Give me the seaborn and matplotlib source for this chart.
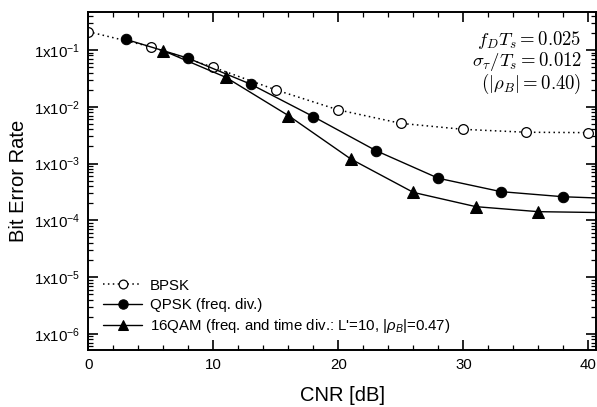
import numpy as np
import pandas as pd
import seaborn as sns
import matplotlib.pyplot as plt
from matplotlib.ticker import LogLocator, FuncFormatter, MultipleLocator, NullFormatter

# values (CNR in dB, bit error rate)
bpsk_cnr = [0, 5, 10, 15, 20, 25, 30, 35, 40]
bpsk_ber = [0.21, 0.114, 0.0495, 0.0198, 0.0088, 0.0051, 0.0040, 0.00356, 0.0035]

qpsk_cnr = [3, 8, 13, 18, 23, 28, 33, 38, 43]
qpsk_ber = [0.154, 0.0714, 0.0249, 0.0067, 0.00169, 0.00055, 0.00032, 0.00026, 0.000237]

qam_cnr = [6, 11, 16, 21, 26, 31, 36, 41]
qam_ber = [0.097, 0.033, 0.0070, 0.0012, 0.00031, 0.000174, 0.000142, 0.000137]

labels = ["BPSK", "QPSK (freq. div.)",
          "16QAM (freq. and time div.: L'=10, $|\\rho_B|$=0.47)"]

sns.set_theme(style="ticks")
plt.rcParams["font.family"] = ["Liberation Sans", "DejaVu Sans"]
plt.rcParams["mathtext.fontset"] = "custom"
plt.rcParams["mathtext.rm"] = "Liberation Sans"
plt.rcParams["mathtext.it"] = "Liberation Sans:italic"
plt.rcParams["mathtext.bf"] = "Liberation Sans:bold"
plt.rcParams["text.color"] = "black"
plt.rcParams["axes.labelcolor"] = "black"
plt.rcParams["xtick.color"] = "black"
plt.rcParams["ytick.color"] = "black"

fig = plt.figure(figsize=(5.97, 4.07), dpi=100)
ax = fig.add_axes([0.1479, 0.14, 0.8504, 0.8298])

sns.lineplot(x=bpsk_cnr, y=bpsk_ber, ax=ax, color="black", linestyle=(0, (1, 2.2)),
             linewidth=1.1, marker="o", markersize=7, markerfacecolor="white",
             markeredgecolor="black", markeredgewidth=0.9, label=labels[0])
sns.lineplot(x=qpsk_cnr, y=qpsk_ber, ax=ax, color="black", linewidth=1.0,
             marker="o", markersize=7.5, markeredgecolor="black", label=labels[1])
sns.lineplot(x=qam_cnr, y=qam_ber, ax=ax, color="black", linewidth=1.0,
             marker="^", markersize=8, markeredgecolor="black", label=labels[2])

ax.set_yscale("log")
ax.set_xlim(0, 40.6)
ax.set_ylim(5.2e-7, 0.461)

ax.xaxis.set_major_locator(MultipleLocator(10))
ax.xaxis.set_minor_locator(MultipleLocator(2))
ax.yaxis.set_major_locator(LogLocator(base=10, numticks=20))
ax.yaxis.set_minor_locator(LogLocator(base=10, subs=np.arange(2, 10), numticks=20))
ax.yaxis.set_minor_formatter(NullFormatter())
ax.yaxis.set_major_formatter(FuncFormatter(
    lambda v, pos: "1x10$^{%d}$" % int(round(np.log10(v)))))

ax.tick_params(which="both", direction="in", top=True, right=True, color="black",
               labelsize=10.8, pad=6)
ax.tick_params(which="major", length=7, width=1.2)
ax.tick_params(which="minor", length=3.5, width=0.9)
for s in ax.spines.values():
    s.set_linewidth(1.4)
    s.set_color("black")

ax.set_xlabel("CNR [dB]", fontsize=14.5, labelpad=10)
ax.set_ylabel("Bit Error Rate", fontsize=14.5)
ax.yaxis.set_label_coords(-0.119, 0.5)

note = "$f_DT_s = 0.025$\n$\\sigma_\\tau/T_s = 0.012$\n$(|\\rho_B| = 0.40)$"
ax.text(0.972, 0.95, note, transform=ax.transAxes, ha="right", va="top",
        fontsize=13.5, math_fontfamily="cm", linespacing=0.92)

ax.legend(loc="lower left", frameon=False, fontsize=10.8, handlelength=2.6,
          handletextpad=0.5, labelspacing=0.35, borderaxespad=0.6,
          markerscale=0.9, bbox_to_anchor=(0.0, 0.0))

fig.savefig("out.png", dpi=100)
